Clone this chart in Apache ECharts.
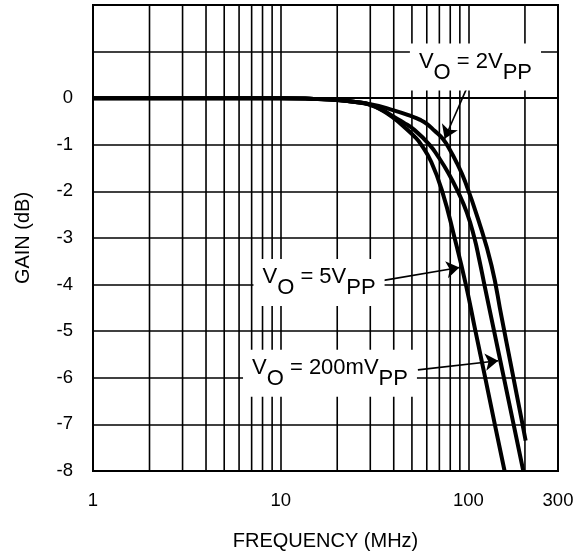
<!DOCTYPE html>
<html>
<head>
<meta charset="utf-8">
<title>Gain vs Frequency</title>
<script src="https://cdn.jsdelivr.net/npm/echarts@6.0.0/dist/echarts.min.js"></script>
<style>
	html, body { margin: 0; padding: 0; background: #fff; }
	#chart { width: 583px; height: 558px; }
</style>
</head>
<body>
<div id="chart"></div>
<script>
var FONT = '"Liberation Sans", Arial, Helvetica, sans-serif';

// gain curves, frequency in MHz, gain in dB
var freq2V = [1, 10, 15, 20, 30, 40, 50, 55, 60, 66, 73, 80, 87, 95.4, 112.7, 132.7, 150.2, 169.8, 192, 201.7];
var gain2V = [0, 0, -0.015, -0.04, -0.13, -0.26, -0.39, -0.46, -0.55, -0.7, -0.87, -1.12, -1.4, -1.76, -2.6, -3.59, -4.7, -5.8, -6.9, -7.35];

var freq5V = [1, 10, 15, 20, 25, 30, 35, 40, 45, 51.5, 56.1, 63.4, 72.5, 84.4, 96.9, 109, 122.9, 138.2, 155.8];
var gain5V = [0, 0, -0.015, -0.04, -0.08, -0.14, -0.27, -0.43, -0.6, -0.82, -1.0, -1.37, -2.0, -3.0, -4.0, -5.0, -6.0, -7.0, -8.0];

var freq200m = [1, 10, 15, 20, 25, 30, 35, 40, 45, 51.5, 62.1, 68.9, 78, 87.8, 98, 107.6, 114, 121.6, 137, 154.5, 174, 196];
var gain200m = [0, 0, -0.015, -0.04, -0.08, -0.14, -0.26, -0.4, -0.52, -0.68, -1.0, -1.25, -1.6, -2.0, -2.45, -3.0, -3.45, -4.0, -5.0, -6.0, -7.0, -8.0];

// vertical grid lines inside each decade
var minorFreq = [2, 3, 4, 5, 6, 7, 8, 9, 20, 30, 40, 50, 60, 70, 80, 90, 200];

var yMin = -8;
var yMax = 2;

// annotation anchors (data coords)
var note2V = [109, 0.667];
var note5V = [16.0, -3.957];
var note200m = [18.3, -5.903];
var arrow2V = [[99.6, 0.28], [74.7, -0.87]];
var arrow5V = [[34.7, -3.914], [89.5, -3.634]];
var arrow200m = [[53.8, -5.83], [144.1, -5.634]];

function pairs(xs, ys){
	var out = [];
	for (var i = 0; i < xs.length; i++) {
		out.push([xs[i], ys[i]]);
	}
	return out;
}

function curve(name, xs, ys, extra){
	var s = {
		name : name,
		type : 'line',
		smooth : 0.5,
		symbol : 'none',
		z : 3,
		lineStyle : { color : '#000', width : 4 },
		data : pairs(xs, ys)
	};
	if (extra) {
		for (var k in extra) s[k] = extra[k];
	}
	return s;
}

function note(coord, text){
	return {
		coord : coord,
		symbol : 'rect',
		symbolSize : 1,
		itemStyle : { color : 'rgba(0,0,0,0)' },
		label : {
			show : true,
			position : 'inside',
			backgroundColor : '#fff',
			padding : [7, 9, 7, 9],
			formatter : text,
			rich : {
				v : { fontFamily : FONT, fontSize : 22, color : '#000', verticalAlign : 'top' },
				s : { fontFamily : FONT, fontSize : 22, color : '#000', verticalAlign : 'top', padding : [11, 0, 0, 0] }
			}
		}
	};
}

function arrow(pts){
	return [{ coord : pts[0] }, { coord : pts[1] }];
}

var chart = echarts.init(document.getElementById('chart'));

var option = {
	animation : false,
	grid : {
		left : 93,
		right : 25,
		top : 5,
		bottom : 87,
		show : true,
		borderColor : '#000',
		borderWidth : 2,
		backgroundColor : '#fff'
	},
	xAxis : {
		type : 'log',
		logBase : 10,
		min : 1,
		max : 300,
		name : 'FREQUENCY (MHz)',
		nameLocation : 'middle',
		nameGap : 60,
		nameTextStyle : { fontFamily : FONT, fontSize : 20, color : '#000' },
		axisLine : { show : true, lineStyle : { color : '#000', width : 2 } },
		axisTick : { show : false },
		axisLabel : { fontFamily : FONT, fontSize : 18.5, color : '#000', margin : 20 },
		splitLine : { show : true, lineStyle : { color : '#000', width : 1.6 } }
	},
	yAxis : {
		type : 'value',
		min : yMin,
		max : yMax,
		interval : 1,
		name : 'GAIN (dB)',
		nameLocation : 'middle',
		nameGap : 60,
		nameTextStyle : { fontFamily : FONT, fontSize : 20, color : '#000' },
		axisLine : { show : true, lineStyle : { color : '#000', width : 2 } },
		axisTick : { show : false },
		axisLabel : {
			fontFamily : FONT,
			fontSize : 18.5,
			color : '#000',
			margin : 20,
			formatter : function(v){ return v > 0 ? '' : String(v); }
		},
		splitLine : { show : true, lineStyle : { color : '#000', width : 1.6 } }
	},
	series : [
		{
			name : 'minorGrid',
			type : 'custom',
			silent : true,
			z : 1,
			data : minorFreq.map(function(f){ return [f, yMin]; }),
			encode : { x : 0, y : 1 },
			renderItem : function(params, api){
				var p1 = api.coord([api.value(0), yMax]);
				var p2 = api.coord([api.value(0), yMin]);
				return {
					type : 'line',
					shape : { x1 : p1[0], y1 : p1[1], x2 : p2[0], y2 : p2[1] },
					style : { stroke : '#000', lineWidth : 1.6 }
				};
			}
		},
		curve('VO = 5VPP', freq5V, gain5V),
		curve('VO = 200mVPP', freq200m, gain200m),
		curve('VO = 2VPP', freq2V, gain2V, {
			markPoint : {
				silent : true,
				data : [
					note(note2V, '{v|V}{s|O}{v| = 2V}{s|PP}'),
					note(note5V, '{v|V}{s|O}{v| = 5V}{s|PP}'),
					note(note200m, '{v|V}{s|O}{v| = 200mV}{s|PP}')
				]
			},
			markLine : {
				silent : true,
				symbol : ['none', 'arrow'],
				symbolSize : 13,
				label : { show : false },
				lineStyle : { color : '#000', width : 1.6, type : 'solid' },
				data : [arrow(arrow2V), arrow(arrow5V), arrow(arrow200m)]
			}
		})
	]
};

chart.setOption(option);
</script>
</body>
</html>
